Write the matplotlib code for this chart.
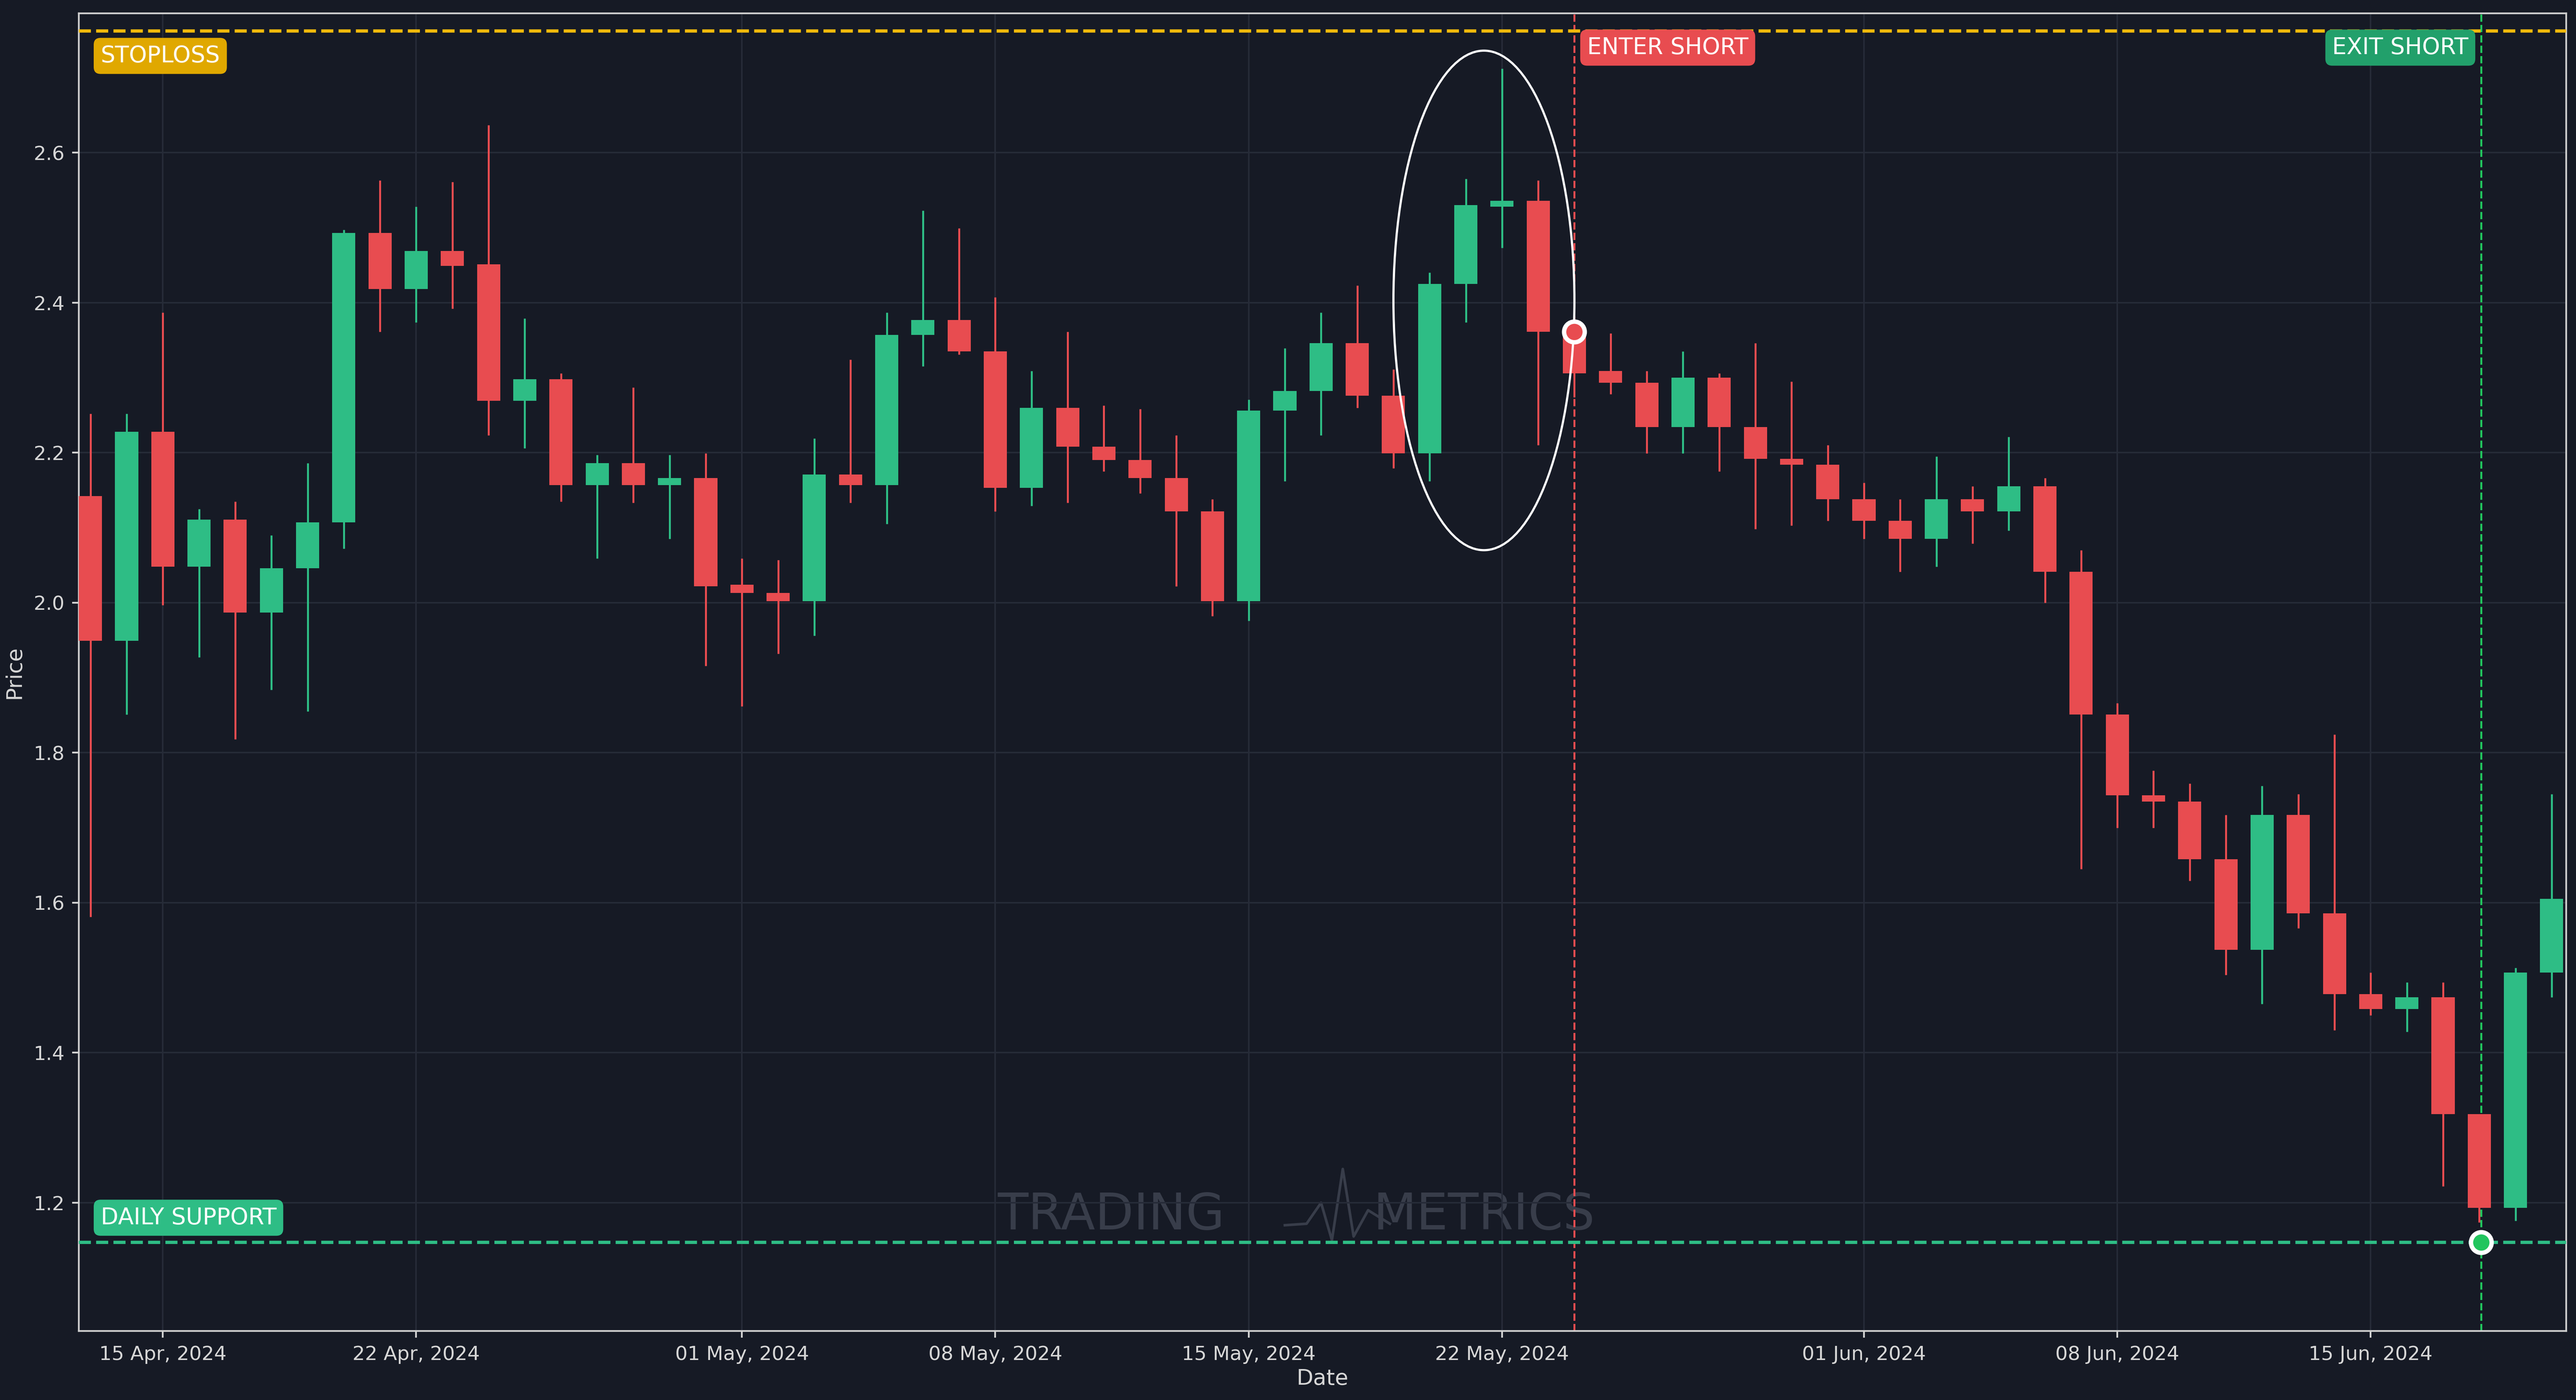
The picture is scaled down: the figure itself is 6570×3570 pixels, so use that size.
import matplotlib.pyplot as plt
import matplotlib.dates as mdates
import numpy as np
import pandas as pd
from matplotlib.patches import Ellipse

dates = pd.date_range("2024-04-13", "2024-06-20", freq="D")
opens = [2.142, 1.949, 2.228, 2.048, 2.111, 1.987, 2.046, 2.107, 2.493, 2.418,
         2.469, 2.451, 2.269, 2.298, 2.157, 2.186, 2.157, 2.166, 2.024, 2.013,
         2.002, 2.171, 2.157, 2.357, 2.377, 2.335, 2.153, 2.260, 2.208, 2.190,
         2.166, 2.122, 2.002, 2.256, 2.282, 2.346, 2.276, 2.199, 2.425, 2.528,
         2.536, 2.361, 2.309, 2.293, 2.234, 2.300, 2.234, 2.192, 2.184, 2.138,
         2.109, 2.085, 2.138, 2.122, 2.155, 2.041, 1.851, 1.743, 1.735, 1.658,
         1.537, 1.717, 1.586, 1.478, 1.458, 1.474, 1.318, 1.193, 1.507]
closes = [1.949, 2.228, 2.048, 2.111, 1.987, 2.046, 2.107, 2.493, 2.418, 2.469,
          2.449, 2.269, 2.298, 2.157, 2.186, 2.157, 2.166, 2.022, 2.013, 2.002,
          2.171, 2.157, 2.357, 2.377, 2.335, 2.153, 2.260, 2.208, 2.190, 2.166,
          2.122, 2.002, 2.256, 2.282, 2.346, 2.276, 2.199, 2.425, 2.530, 2.536,
          2.361, 2.306, 2.293, 2.234, 2.300, 2.234, 2.192, 2.184, 2.138, 2.109,
          2.085, 2.138, 2.122, 2.155, 2.041, 1.851, 1.743, 1.735, 1.658, 1.537,
          1.717, 1.586, 1.478, 1.458, 1.474, 1.318, 1.193, 1.507, 1.605]
highs = [2.252, 2.252, 2.387, 2.125, 2.135, 2.090, 2.186, 2.497, 2.563, 2.528,
         2.561, 2.637, 2.379, 2.306, 2.197, 2.287, 2.197, 2.199, 2.059, 2.057,
         2.219, 2.324, 2.387, 2.523, 2.499, 2.407, 2.309, 2.361, 2.263, 2.258,
         2.223, 2.138, 2.271, 2.339, 2.387, 2.423, 2.311, 2.440, 2.565, 2.712,
         2.563, 2.374, 2.359, 2.309, 2.335, 2.306, 2.346, 2.295, 2.210, 2.160,
         2.138, 2.195, 2.155, 2.221, 2.166, 2.070, 1.866, 1.776, 1.759, 1.717,
         1.756, 1.745, 1.824, 1.507, 1.494, 1.494, 1.318, 1.513, 1.745]
lows = [1.581, 1.851, 1.997, 1.927, 1.818, 1.884, 1.855, 2.072, 2.361, 2.374,
        2.392, 2.223, 2.206, 2.135, 2.059, 2.133, 2.085, 1.916, 1.862, 1.932,
        1.956, 2.133, 2.105, 2.315, 2.331, 2.122, 2.129, 2.133, 2.175, 2.146,
        2.022, 1.982, 1.976, 2.162, 2.223, 2.260, 2.179, 2.162, 2.374, 2.473,
        2.210, 2.274, 2.278, 2.199, 2.199, 2.175, 2.098, 2.103, 2.109, 2.085,
        2.041, 2.048, 2.079, 2.096, 2.000, 1.645, 1.700, 1.700, 1.629, 1.504,
        1.465, 1.566, 1.430, 1.450, 1.428, 1.222, 1.174, 1.176, 1.474]

stoploss = 2.762
support = 1.147
entry_date = pd.Timestamp("2024-05-24")
entry_price = 2.361
exit_date = pd.Timestamp("2024-06-18")
exit_price = 1.147
tick_dates = ["2024-04-15", "2024-04-22", "2024-05-01", "2024-05-08", "2024-05-15",
              "2024-05-22", "2024-06-01", "2024-06-08", "2024-06-15"]

bg = "#161a25"
green = "#2ebd85"
red = "#e84c50"
fg = "#d6d6d6"

fig = plt.figure(figsize=(16.425, 8.925), dpi=400, facecolor=bg)
ax = fig.add_axes([48 / 1568, 1 - 810 / 852, 1514 / 1568, 802 / 852], facecolor=bg)

x = mdates.date2num(dates)
o, c, h, l = map(np.array, (opens, closes, highs, lows))
up = c >= o
cols = np.where(up, green, red)
ax.vlines(x, l, h, colors=cols, linewidth=0.9, zorder=2)
ax.bar(x, np.maximum(np.abs(c - o), 0.006), bottom=np.minimum(o, c), width=0.64,
       color=cols, zorder=3)

ax.axhline(stoploss, color="#f0b90b", linestyle="--", linewidth=1.5, zorder=4)
ax.axhline(support, color=green, linestyle="--", linewidth=1.5, zorder=4)
ax.axvline(mdates.date2num(entry_date), color=red, linestyle="--", linewidth=0.9)
ax.axvline(mdates.date2num(exit_date) + 0.05, color="#22c55e", linestyle="--", linewidth=0.9)

ax.scatter([mdates.date2num(entry_date)], [entry_price], s=90, color=red,
           edgecolor="white", linewidth=2, zorder=6)
ax.scatter([mdates.date2num(exit_date) + 0.05], [exit_price], s=90, color="#22c55e",
           edgecolor="white", linewidth=2, zorder=6)

ell = Ellipse((mdates.date2num(pd.Timestamp("2024-05-21")) + 0.5, 2.403), 5.0, 0.666,
              fill=False, edgecolor="white", linewidth=1.0, zorder=5)
ax.add_patch(ell)

def label(xv, yv, text, color, ha="left"):
    ax.text(xv, yv, text, color="white", fontsize=10.5, ha=ha, va="center", zorder=7,
            bbox=dict(boxstyle="round,pad=0.3", facecolor=color, edgecolor="none"))

x0 = mdates.date2num(dates[0]) - 0.32
label(x0 + 0.6, 2.729, "STOPLOSS", "#e0a800")
label(x0 + 0.6, 1.180, "DAILY SUPPORT", green)
label(mdates.date2num(entry_date) + 0.35, 2.740, "ENTER SHORT", red)
label(mdates.date2num(exit_date) - 0.3, 2.740, "EXIT SHORT", "#22a06b", ha="right")

# watermark
wm = "#383d4a"
ax.text(mdates.date2num(pd.Timestamp("2024-05-11")) + 0.2, 1.183, "TRADING", color=wm,
        fontsize=23, ha="center", va="center", zorder=1)
ax.text(mdates.date2num(pd.Timestamp("2024-05-21")) + 0.5, 1.183, "METRICS", color=wm,
        fontsize=23, ha="center", va="center", zorder=1)
wx = mdates.date2num(pd.Timestamp("2024-05-16")) + np.array([0.0, 0.6, 1.0, 1.3, 1.6, 1.9, 2.3, 2.9])
wy = [1.170, 1.172, 1.200, 1.150, 1.245, 1.155, 1.190, 1.172]
ax.plot(wx, wy, color=wm, linewidth=1.2, zorder=1)

ax.set_xlim(x0, mdates.date2num(dates[-1]) + 0.4)
ax.set_ylim(1.029, 2.786)
ax.set_xticks(mdates.date2num(pd.to_datetime(tick_dates)))
ax.xaxis.set_major_formatter(mdates.DateFormatter("%d %b, %Y"))
ax.set_yticks([1.2, 1.4, 1.6, 1.8, 2.0, 2.2, 2.4, 2.6])
ax.grid(True, color="#262b38", linewidth=0.7, zorder=0)
ax.tick_params(colors=fg, labelsize=9, length=3)
for s in ax.spines.values():
    s.set_color("#cfcfcf")
ax.set_xlabel("Date", color=fg, fontsize=10, labelpad=2)
ax.set_ylabel("Price", color=fg, fontsize=10)

fig.savefig("out.png", dpi=400, facecolor=bg)
